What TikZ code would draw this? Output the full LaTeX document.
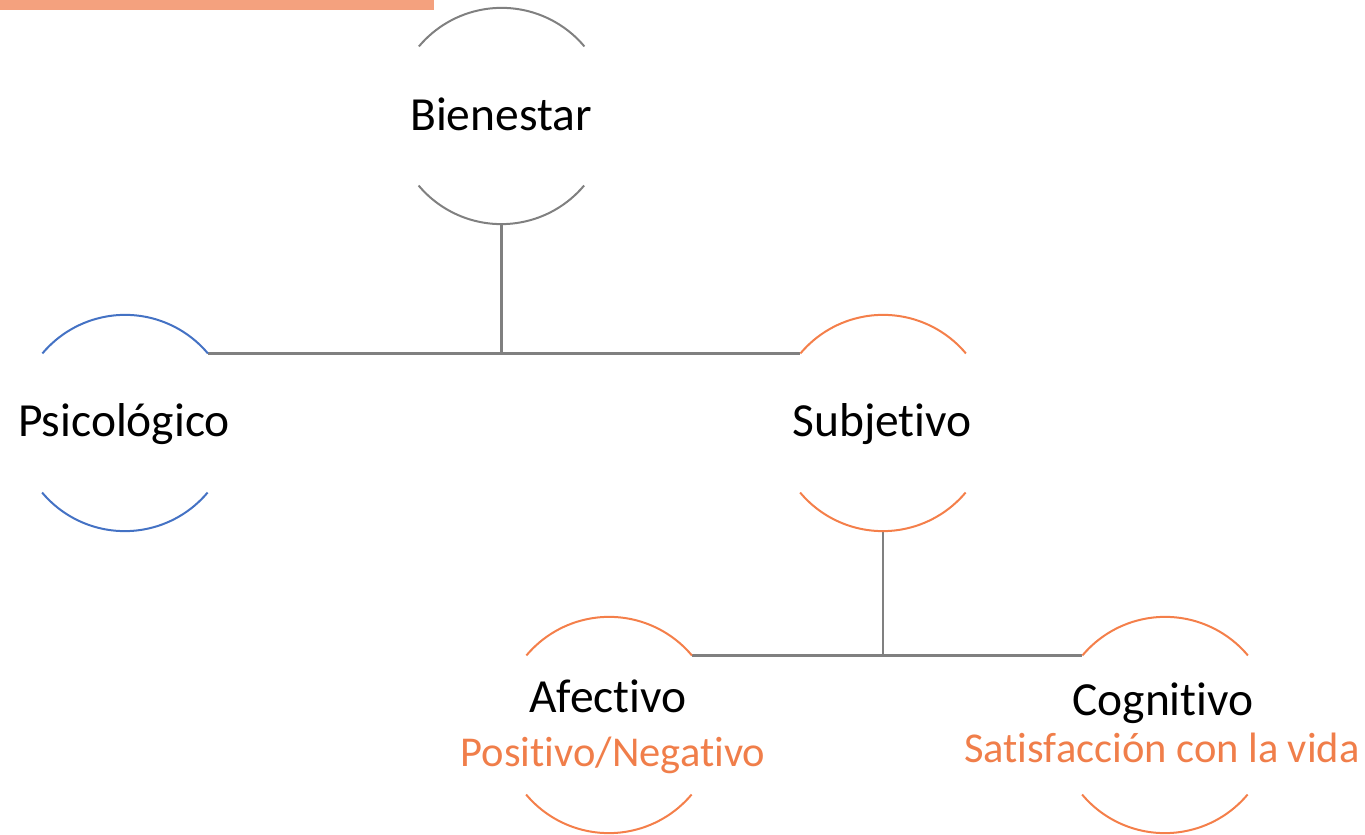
\documentclass[tikz,border=0pt]{standalone}
\usepackage{fontspec}
\setmainfont{Carlito}[Ligatures={NoCommon}, RawFeature={-liga;-clig;-dlig}]
\definecolor{cgray}{HTML}{808080}
\definecolor{corange}{HTML}{F47F4A}
\definecolor{cblue}{HTML}{4472C4}
\definecolor{cbar}{HTML}{F4A17E}
\definecolor{ctxt}{HTML}{F07E4A}
\tikzset{
  hub/.style={circle, minimum size=216pt, inner sep=0pt},
  arcline/.style={line width=2pt},
  conn/.style={draw=cgray, line width=2.6pt},
  maintxt/.style={anchor=base, inner sep=0pt, font=\fontsize{47.5}{52}\selectfont, text=black},
  subtxt/.style={anchor=base, inner sep=0pt, font=\fontsize{42.5}{47}\selectfont, text=ctxt}
}
\newcommand{\halfarcs}[2]{%
  \draw[arcline, #2] (#1.40) arc[start angle=40, end angle=140, radius=108pt];
  \draw[arcline, #2] (#1.220) arc[start angle=220, end angle=320, radius=108pt];
}
\begin{document}
\begin{tikzpicture}[x=1pt,y=1pt]
\useasboundingbox (0,0) rectangle (1365,835);
\fill[cbar] (0,825) rectangle (434,835);
% circles
\node[hub] (bien) at (501.5,719) {};
\node[hub] (psic) at (125,412) {};
\node[hub] (subj) at (883,412) {};
\node[hub] (afec) at (609,110) {};
\node[hub] (cogn) at (1165,110) {};
% connectors
\draw[conn] (bien.south) -- (bien.south |- psic.40);
\draw[conn] (psic.40) -- (subj.140);
\draw[conn] (subj.south) -- (subj.south |- afec.40);
\draw[conn] (afec.40) -- (cogn.140);
% arcs
\halfarcs{bien}{cgray}
\halfarcs{psic}{cblue}
\halfarcs{subj}{corange}
\halfarcs{afec}{corange}
\halfarcs{cogn}{corange}
% texts
\node[maintxt] (tbien) at (501,704) {Bienestar};
\node[maintxt] (tpsic) at (124,398) {Psicológico};
\node[maintxt] (tsubj) at (882,398) {Subjetivo};
\node[maintxt] (tafec) at (608,122) {Afectivo};
\node[subtxt] (tpos) at (613,68) {Positivo/Negativo};
\node[maintxt] (tcogn) at (1163,119.5) {Cognitivo};
\node[subtxt] (tsat) at (1162,72) {Satisfacción con la vida};
\end{tikzpicture}
\end{document}
